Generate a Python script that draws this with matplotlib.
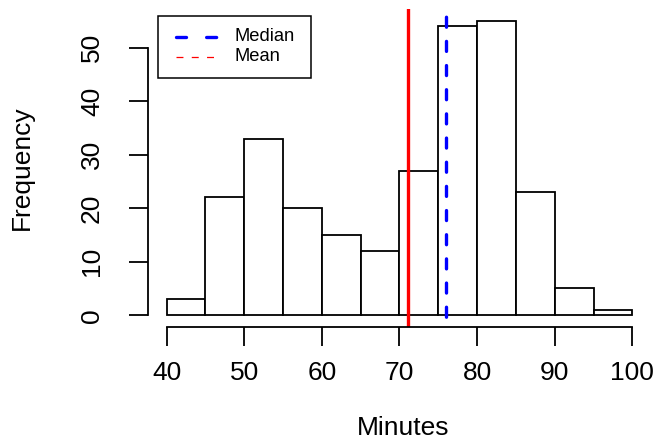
import matplotlib
matplotlib.use("Agg")
import matplotlib.pyplot as plt
from matplotlib.lines import Line2D
from matplotlib.patches import Rectangle
import numpy as np

plt.rcParams['font.family'] = ['Liberation Sans', 'DejaVu Sans']
plt.rcParams['lines.scale_dashes'] = False

# data
bin_edges = [40, 45, 50, 55, 60, 65, 70, 75, 80, 85, 90, 95, 100]
counts = [3, 22, 33, 20, 15, 12, 27, 54, 55, 23, 5, 1]
mean_val = 71.1
median_val = 76
x_ticks = [40, 50, 60, 70, 80, 90, 100]
y_ticks = [0, 10, 20, 30, 40, 50]
legend_labels = ["Median", "Mean"]

W, H = 658, 440
fig = plt.figure(figsize=(W / 100, H / 100), dpi=100)
ax = fig.add_axes([148 / W, (H - 327) / H, 503 / W, 318 / H])

ax.bar(bin_edges[:-1], counts, width=np.diff(bin_edges), align='edge',
       facecolor='white', edgecolor='black', linewidth=1.3)

ax.axvline(mean_val, color='#FF0000', linewidth=2.4)
ax.axvline(median_val, color='#0000FF', linewidth=2.4,
           linestyle=(10, (7.2, 10.2)), dash_capstyle='round')

ax.set_xlim(37.6, 102.4)
ax.set_ylim(-2.2, 57.2)

for s in ['top', 'right']:
    ax.spines[s].set_visible(False)
ax.spines['left'].set_bounds(0, 50)
ax.spines['bottom'].set_bounds(40, 100)
ax.spines['left'].set_linewidth(1.3)
ax.spines['bottom'].set_linewidth(1.3)

ax.set_xticks(x_ticks)
ax.set_yticks(y_ticks)
ax.tick_params(axis='both', direction='out', length=13.7, width=1.3,
               labelsize=19, colors='black')
ax.tick_params(axis='x', pad=10.5)
ax.tick_params(axis='y', pad=18)
for lab in ax.get_yticklabels():
    lab.set_rotation(90)
    lab.set_va('center')

fig.text(403 / W, 1 - 428 / H, "Minutes", fontsize=19, ha='center', va='center')
fig.text(22 / W, 1 - 168 / H, "Frequency", fontsize=19, ha='center', va='center',
         rotation=90)

# legend (drawn in pixel coordinates)
def px(x, y):
    return x / W, 1 - y / H

x0, y0 = px(158, 78)
rect = Rectangle((x0, y0), (311 - 158) / W, (78 - 16) / H, transform=fig.transFigure,
                 facecolor='white', edgecolor='black', linewidth=1.1, zorder=5)
fig.add_artist(rect)
lx1, ly1 = px(176, 36.7)
lx2, _ = px(217, 36.7)
fig.add_artist(Line2D([lx1, lx2], [ly1, ly1], transform=fig.transFigure,
                      color='#0000FF', linewidth=2.4,
                      linestyle=(0, (7.2, 14.5)), dash_capstyle='round', zorder=6))
_, ly2 = px(176, 56.7)
fig.add_artist(Line2D([lx1, lx2], [ly2, ly2], transform=fig.transFigure,
                      color='#FF0000', linewidth=0.9,
                      linestyle=(0, (5, 6)), zorder=6))
tx, _ = px(235, 0)
fig.text(tx, ly1, legend_labels[0], fontsize=13.2, ha='left', va='center', zorder=7)
fig.text(tx, ly2, legend_labels[1], fontsize=13.2, ha='left', va='center', zorder=7)

fig.savefig("out.png", dpi=100)
